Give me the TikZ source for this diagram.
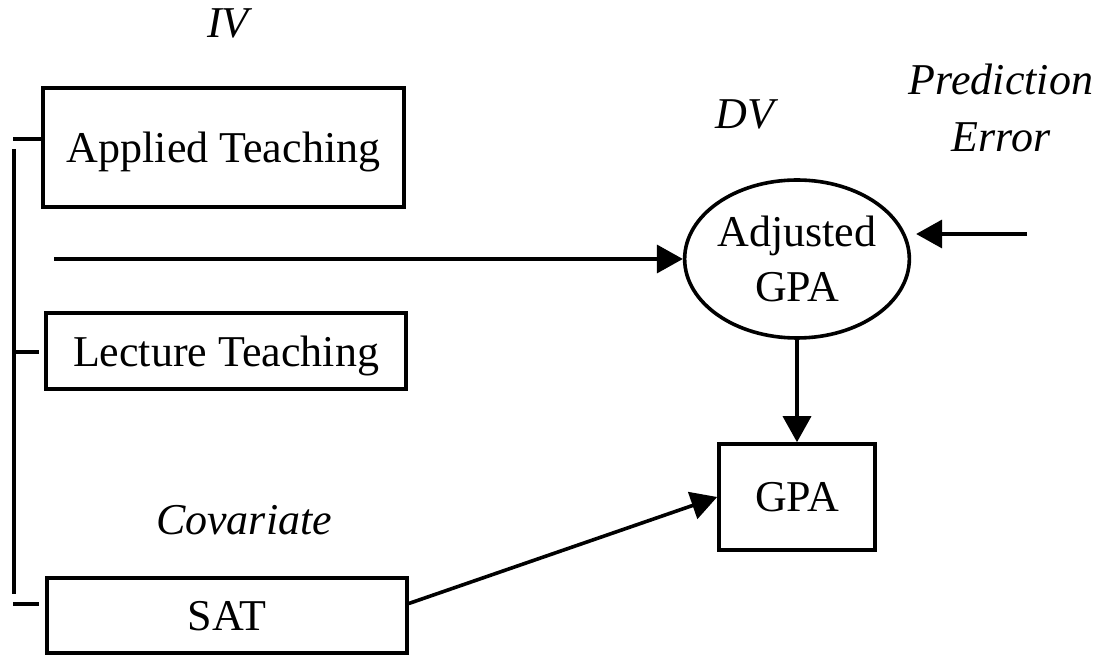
\documentclass[tikz,border=0pt]{standalone}
\usepackage{fontspec}
\setmainfont{Liberation Serif}
\usetikzlibrary{positioning, arrows.meta, shapes.geometric}

\begin{document}
\begin{tikzpicture}[
    x=0.5pt, y=-0.5pt,
    font=\fontsize{22}{27.5}\selectfont,
    varbox/.style={rectangle, draw, line width=1.8pt, inner sep=0pt, text depth=0pt, align=center},
    oval/.style={ellipse, draw, line width=1.8pt, inner sep=0pt, minimum width=104pt,
        minimum height=79pt, align=center},
    lbl/.style={font=\fontsize{22}{28.5}\selectfont\itshape, align=center, inner sep=0pt},
    arr/.style={-{Triangle[length=13pt, width=14pt]}, line width=1.8pt},
    brk/.style={line width=1.8pt}
]
\useasboundingbox (0,0) rectangle (1100,657);

% independent variables and covariate
\node[varbox, minimum width=180.5pt, minimum height=59.5pt] (app) at (223.5,147.5) {Applied Teaching};
\node[varbox, minimum width=180pt, minimum height=38pt]     (lec) at (226,351)     {Lecture Teaching};
\node[varbox, minimum width=180pt, minimum height=37.5pt]   (sat) at (227,615.5)   {SAT};

% dependent side
\node[oval] (adj) at (797,259) {Adjusted\\GPA};
\node[varbox, minimum width=78pt, minimum height=53pt] (gpa) at (797,497) {GPA};

% headings
\node[lbl] (iv)   at (228,23)   {IV};
\node[lbl] (dv)   at (745,114)  {DV};
\node[lbl] (cov)  at (244,520)  {Covariate};
\node[lbl] (perr) at (1001,108) {Prediction\\Error};

\coordinate (ivtail)  at (54,259);
\coordinate (errtail) at (1027,234);

% bracket
\draw[brk] (14,149) -- (14,594);
\foreach \y/\xe in {139/43, 352/39, 604/39}
    \draw[brk] (13,\y) -- (\xe,\y);

\draw[arr] (ivtail) -- (adj.west);
\draw[arr, shorten >=2.5pt] (errtail) -- (errtail -| adj.east);
\draw[arr] (adj) -- (gpa);
\draw[arr] ([yshift=6pt]sat.east) -- (gpa.west);
\end{tikzpicture}
\end{document}
